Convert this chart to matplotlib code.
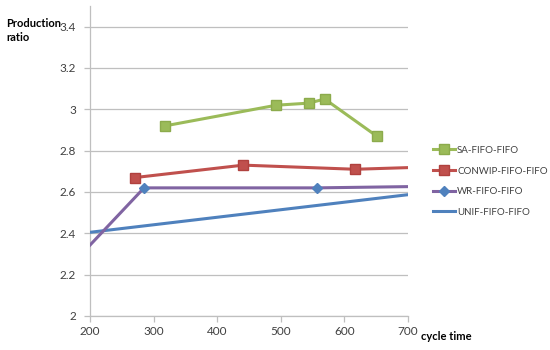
import matplotlib; matplotlib.use("Agg")
import matplotlib.pyplot as plt
from matplotlib.lines import Line2D

# series (cycle time, production ratio)
sa_x = [318, 493, 544, 569, 651]
sa_y = [2.92, 3.02, 3.03, 3.05, 2.87]
conwip_x = [271, 441, 617, 700]
conwip_y = [2.67, 2.73, 2.71, 2.718]
wr_x = [200, 285, 557, 700]
wr_y = [2.343, 2.62, 2.62, 2.626]
unif_x = [200, 700]
unif_y = [2.405, 2.587]

LABELS = ["SA-FIFO-FIFO", "CONWIP-FIFO-FIFO", "WR-FIFO-FIFO", "UNIF-FIFO-FIFO"]
GREEN, RED, PURPLE, BLUE = "#9BBB59", "#C0504D", "#8064A2", "#4F81BD"

plt.rcParams["font.family"] = ["Lato", "DejaVu Sans"]
FS = 8

fig = plt.figure(figsize=(5.5, 3.5), dpi=100)
ax = fig.add_axes([90/550, 34/350, 318/550, 310/350])

lw = 2.2
ax.plot(unif_x, unif_y, color=BLUE, lw=lw, zorder=3)
ax.plot(wr_x, wr_y, color=PURPLE, lw=lw, marker="D", ms=5.5, mfc=BLUE, mec=BLUE,
        markevery=[1, 2], zorder=4)
ax.plot(conwip_x, conwip_y, color=RED, lw=lw, marker="s", ms=7, mfc=RED, mec="#B0413E",
        markevery=[0, 1, 2], zorder=4)
ax.plot(sa_x, sa_y, color=GREEN, lw=lw, marker="s", ms=7, mfc=GREEN, mec="#8CAB4C", zorder=4)

ax.set_xlim(200, 700); ax.set_ylim(2, 3.5)
ax.set_xticks(range(200, 701, 100))
ax.set_yticks([2, 2.2, 2.4, 2.6, 2.8, 3, 3.2, 3.4])
ax.set_yticklabels(["2", "2.2", "2.4", "2.6", "2.8", "3", "3.2", "3.4"])
ax.grid(axis="y", color="#BFBFBF", lw=0.9)
ax.set_axisbelow(True)
for s in ["top", "right"]:
    ax.spines[s].set_visible(False)
for s in ["left", "bottom"]:
    ax.spines[s].set_color("#BFBFBF"); ax.spines[s].set_linewidth(0.9)
ax.tick_params(colors="#BFBFBF", labelcolor="#404040", labelsize=FS + 0.5, length=4, width=0.9)
ax.tick_params(axis="y", pad=6)

fig.text(6/550, 1 - 30.5/350, "Production\nratio", fontsize=FS, fontweight="bold",
         va="center", ha="left", linespacing=1.35)
fig.text(421/550, 1 - 337/350, "cycle time", fontsize=FS, fontweight="bold",
         va="center", ha="left")

handles = [
    Line2D([], [], color=GREEN, lw=lw, marker="s", ms=7, mfc=GREEN, mec="#8CAB4C"),
    Line2D([], [], color=RED, lw=lw, marker="s", ms=7, mfc=RED, mec="#B0413E"),
    Line2D([], [], color=PURPLE, lw=lw, marker="D", ms=5.5, mfc=BLUE, mec=BLUE),
    Line2D([], [], color=BLUE, lw=lw),
]
fig.legend(handles, LABELS, loc="upper left", bbox_to_anchor=(429/550, 1 - 142/350),
           frameon=False, fontsize=7, handlelength=2.3, handletextpad=0.2,
           labelspacing=1.2, labelcolor="#404040", borderaxespad=0)

fig.savefig("out.png", dpi=100)
